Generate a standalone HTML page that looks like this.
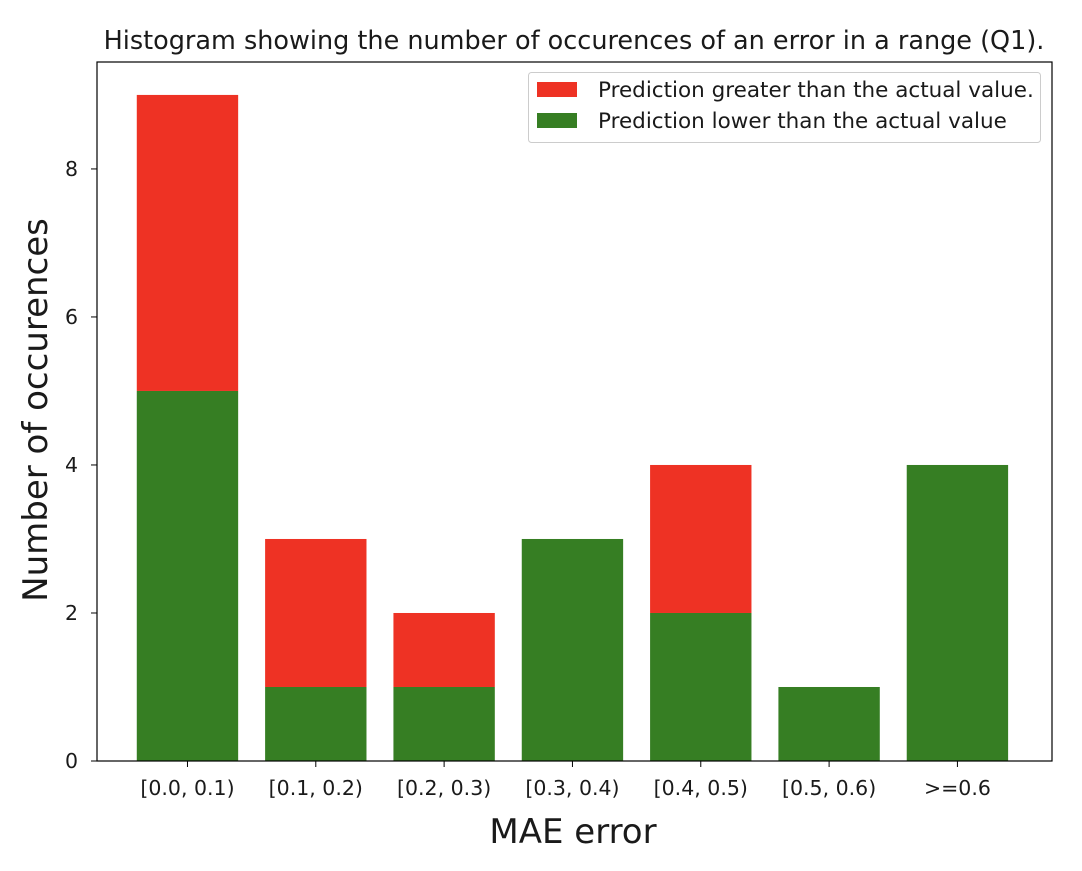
<!DOCTYPE html>
<html><head><meta charset="utf-8"><style>
html,body{margin:0;padding:0;background:#fff;}
svg text{font-family:"DejaVu Sans","Liberation Sans",sans-serif;fill:#1a1a1a;}
</style></head><body>
<svg id="chart" width="1082" height="866" xmlns="http://www.w3.org/2000/svg">
<rect width="1082" height="866" fill="#fff"/>
<text x="574" y="49" font-size="25.5" text-anchor="middle">Histogram showing the number of occurences of an error in a range (Q1).</text>
<g id="bars"></g>
<g id="axes"></g>
<rect x="97" y="62" width="955" height="699" fill="none" stroke="#000" stroke-width="1.2"/>
<text transform="translate(47,410) rotate(-90)" font-size="34" text-anchor="middle">Number of occurences</text>
<text x="573" y="843" font-size="34" text-anchor="middle">MAE error</text>
<g>
<rect x="528.5" y="72.5" width="512" height="70" rx="3" fill="#fff" stroke="#ccc"/>
<rect x="537" y="82" width="40" height="15" fill="#ee3224"/>
<text x="598" y="97" font-size="21.5">Prediction greater than the actual value.</text>
<rect x="537" y="113" width="40" height="15" fill="#367e23"/>
<text x="598" y="128" font-size="21.5">Prediction lower than the actual value</text>
</g>
</svg>
<script>
const categories = ["[0.0, 0.1)","[0.1, 0.2)","[0.2, 0.3)","[0.3, 0.4)","[0.4, 0.5)","[0.5, 0.6)",">=0.6"];
const lowerValues = [5,1,1,3,2,1,4];
const greaterValues = [4,2,1,0,2,0,0];
const yTicks = [0,2,4,6,8];
const NS="http://www.w3.org/2000/svg";
const L=97,R=1052,T=62,B=761;
const xMin=-0.705,xMax=6.737,yMin=0,yMax=9.445;
function xs(v){return L+(v-xMin)/(xMax-xMin)*(R-L);}
function ys(v){return B-(v-yMin)/(yMax-yMin)*(B-T);}
function mk(tag,attrs,parent){const e=document.createElementNS(NS,tag);for(const k in attrs)e.setAttribute(k,attrs[k]);parent.appendChild(e);return e;}
const bars=document.getElementById('bars'),axes=document.getElementById('axes');
const bw=0.79;
categories.forEach((c,i)=>{
  const x0=xs(i-bw/2),w=xs(i+bw/2)-x0;
  const g=mk('rect',{x:x0,y:ys(lowerValues[i]),width:w,height:ys(0)-ys(lowerValues[i]),fill:'#367e23'},bars);
  
  
  if(greaterValues[i]>0){
    const r=mk('rect',{x:x0,y:ys(lowerValues[i]+greaterValues[i]),width:w,height:ys(lowerValues[i])-ys(lowerValues[i]+greaterValues[i]),fill:'#ee3224'},bars);
    
    
  }
  const t=mk('line',{x1:xs(i),x2:xs(i),y1:B,y2:B+6,stroke:'#000'},axes);
  
  
  const lb=mk('text',{x:xs(i),y:B+34,'font-size':20.5,'text-anchor':'middle'},axes);
  lb.textContent=c;
  
  
});
yTicks.forEach(v=>{
  const t=mk('line',{x1:L-6,x2:L,y1:ys(v),y2:ys(v),stroke:'#000'},axes);
  
  
  const lb=mk('text',{x:L-19,y:ys(v)+7,'font-size':20.5,'text-anchor':'end'},axes);
  lb.textContent=v;
  
  
});
</script>
</body></html>
